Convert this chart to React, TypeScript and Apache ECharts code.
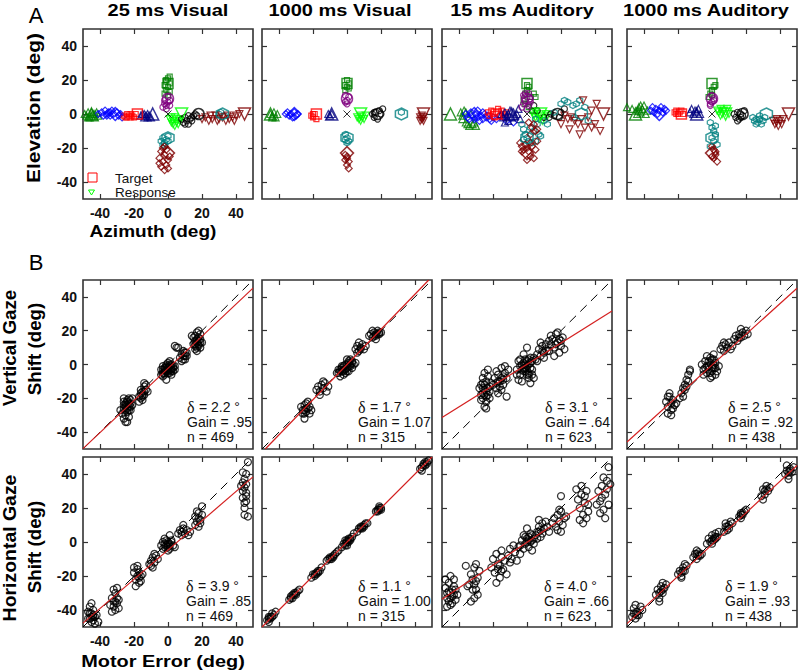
import React, { useEffect, useRef } from 'react';
import * as echarts from 'echarts';

// ---------- axes ----------
const AXIS_MIN = -50;
const AXIS_MAX = 50;
const tickValues = [-40, -20, 0, 20, 40];
const panelTitles = ['25 ms Visual', '1000 ms Visual', '15 ms Auditory', '1000 ms Auditory'];

// ---------- panel A: targets ----------
const targetAzimuth = [-45, -31, -18, -9, 8, 18, 32, 45, 0, 0, 0, 0];
const targetElevation = [0, 0, 0, 0, 0, 0, 0, 0, 18, 9, -14, -23];
const targetColors = ['#007f00', '#0000ff', '#ff0000', '#00007f', '#00ff00', '#000000', '#007f7f', '#7f0000', '#007f00', '#7f007f', '#007f7f', '#7f0000'];
const targetShapes = ['triangle', 'diamond', 'rect', 'triangle', 'triangleDown', 'circle', 'hexagon', 'triangleDown', 'rect', 'circle', 'hexagon', 'diamond'];
const fixationPoint = [0, 0];

// responses (flat x,y lists), one list per target, in target order
const respVis25: number[][] = [
  [-49, 0, -48, -1, -47, 1, -46, -2, -45, -1, -44, 0, -43, -2, -42, 1, -41, -1, -47, -2, -45, 1, -43, 0],
  [-41, 0, -39, 1, -38, -1, -37, 2, -36, 0, -35, 1, -34, -1, -33, 2, -32, 0, -30, 1, -29, -1, -28, 0, -27, -2, -36, -1, -34, 1],
  [-26, -1, -25, -2, -24, 0, -23, -1, -22, -2, -21, -1, -20, -2, -19, 0, -24, -2, -22, 0],
  [-16, -1, -15, 0, -14, -2, -13, -1, -12, 0, -11, -1, -10, -2, -14, 0, -12, -2],
  [1, -3, 2, -5, 3, -4, 4, -7, 5, -5, 6, -3, 4, -2, 3, -6, 6, -6, 7, -4, 2, -2],
  [8, -3, 9, -5, 10, -2, 11, -4, 12, -6, 13, -3, 14, -2, 15, -1, 16, 0, 12, -1, 10, -6, 14, -4, 17, -1],
  [30, 0, 31, 1, 33, -1],
  [20, -3, 22, -2, 24, -4, 26, -3, 28, -1, 30, -3, 32, -2, 34, -4, 36, -3, 38, -2, 40, -1, 42, 0, 25, -1, 29, -4, 35, -1, 39, -4],
  [-2, 12, -1, 14, 0, 16, 1, 18, -1, 20, 0, 21, -2, 17, 1, 13, 0, 11, -1, 19, 1, 22],
  [-3, 4, -2, 6, -1, 5, 0, 7, 1, 8, -1, 3, 0, 10, -2, 8, 1, 5],
  [-4, -16, -3, -14, -2, -17, -1, -15, 0, -13, -3, -18, -2, -19, 0, -16],
  [-5, -26, -4, -22, -3, -28, -2, -24, -1, -30, 0, -27, -4, -31, -2, -33, -3, -20, -1, -21, 0, -32, -5, -29, -2, -19, 1, -25],
];
const respVis1000: number[][] = [
  [-45, 0, -44, -1, -43, 1, -42, -2, -41, 0, -44, -2],
  [-36, 0, -35, 1, -34, -1, -33, 0, -32, -2, -31, 1, -30, -1, -29, 0],
  [-21, -1, -20, -2, -19, 0, -18, -3, -20, 0],
  [-11, 0, -10, -1, -9, 0],
  [6, -2, 7, -3, 8, -4, 9, -2, 10, -3, 11, -1, 8, -1],
  [15, 0, 16, -2, 17, 1, 18, -3, 19, 2, 20, 0, 21, 3, 16, 1],
  [32, 1],
  [43, -2, 44, -3, 45, -4, 44, -1, 43, -4, 45, -2],
  [-1, 14, 0, 16, 1, 18, 0, 20, -1, 17, 1, 15],
  [-1, 7, 0, 8, 1, 10, -1, 11, 0, 6],
  [-1, -12, 0, -14, 1, -16, 0, -17, -1, -15],
  [-1, -24, 0, -26, 1, -28, 0, -30, -1, -27, 1, -32, 0, -25],
];
const respAud15: number[][] = [
  [-39, 1, -38, -1, -37, 2, -36, -5, -35, -6, -34, -7, -33, 0, -32, -6, -31, -5, -30, -7, -38, -3, -36, 1],
  [-36, 0, -35, -2, -34, -3, -33, 1, -32, -1, -31, -3, -30, 0, -29, -2, -28, -4, -27, -1, -26, -3, -25, 0, -24, -2, -23, -1, -22, -3, -21, -4, -20, -2, -18, -3, -16, -1, -14, -2, -12, -4, -8, -5, -29, 2, -26, 1],
  [-23, 1, -22, -1, -21, 2, -20, 0, -19, -2, -18, 1, -17, 3, -16, -1, -15, 2, -14, 0, -13, -2, -12, 1],
  [-15, 0, -14, -2, -13, 1, -12, -1, -11, 0, -10, 2, -9, -2, -8, 1, -7, -1, -6, 0, -5, 3, -4, -3, -11, -4, -13, -5],
  [3, 1, 4, -1, 5, -2, 6, 0, 7, -3, 8, -1, 9, -4, 10, -2, 11, 0, 12, -1, 5, 1],
  [4, 5, 6, 2, 10, -2, 14, 0, 16, -1, 20, 1, 22, 3, 13, -2, 19, -2],
  [20, 6, 22, 8, 24, 7, 27, 5, 29, 6, 31, 8, 34, 4, 10, -4, 12, -6, 16, 1, 36, -4, 28, -2, 8, -13, 5, -16],
  [22, -1, 24, -3, 26, -2, 28, -4, 30, -6, 32, -3, 34, -8, 36, -2, 38, 2, 40, -6, 43, -10, 20, -6, 25, -9, 31, -12, 38, -8, 33, 8, 41, 6],
  [-2, 8, -1, 12, 0, 14, 1, 16, 2, 10, 4, 12, 5, 10, -1, 6, 1, 4, 3, 2, 0, 17],
  [-3, 4, -2, 6, -1, 8, 0, 10, 1, 12, 2, 7, -2, 11, 0, 3, 1, 5, 2, 9, -1, 12],
  [-3, -6, -2, -9, -1, -12, 0, -14, 1, -16, 2, -8, 4, -10, 6, -6, 7, -12, -2, -15, 3, -17, 5, -3],
  [-4, -17, -3, -19, -2, -21, -1, -18, 0, -20, 1, -22, 2, -17, 3, -19, 5, -21, 6, -16, 2, -25, 4, -26, 1, -5, 3, -8, 5, -10, 2, -12, 4, -6, 6, -9, -3, -22, 0, -27],
];
const respAud1000: number[][] = [
  [-50, 4, -47, 3, -44, 2, -43, 4, -42, 1, -41, 3, -40, 5, -39, 0, -38, 2, -44, 0, -42, 5, -43, 2],
  [-36, 2, -35, 4, -34, 1, -33, 3, -32, 0, -31, 2, -30, 4, -29, 1, -28, 3, -27, 2],
  [-22, 1, -21, 2, -20, 0, -19, 1, -18, 2, -17, 0, -21, 0],
  [-13, 1, -12, 3, -11, 0, -10, 2, -9, 1, -8, 3, -7, 0],
  [3, 2, 4, 1, 5, 3, 6, 0, 7, 2, 8, 1, 9, 3, 10, 0, 5, -1],
  [13, 0, 14, -2, 15, 1, 16, -3, 17, 0, 18, -1, 19, 2, 15, -4, 17, -2],
  [24, -2, 25, -4, 26, -3, 27, -5, 28, -3, 29, -6, 30, -4, 31, -2, 26, -6, 28, -1],
  [36, -4, 37, -6, 38, -5, 39, -7, 40, -4, 41, -6, 42, -3, 38, -3],
  [-2, 10, -1, 12, 0, 14, 1, 16, 2, 17, 0, 11],
  [-1, 5, 0, 7, 1, 9, 0, 11, -1, 6, 1, 8],
  [-1, -5, 0, -8, 1, -10, 2, -12, 0, -14, 1, -16, 3, -18, -1, -19, 2, -7],
  [0, -19, 1, -21, 2, -24, 1, -26, 3, -28, 2, -22, 0, -25],
];

// ---------- panel B: motor error (x) vs gaze shift (y), flat x,y lists ----------
const vertVis25 = [
  -26, -22, -25, -24, -24, -21, -23, -25, -22, -23, -25, -27, -24, -28, -23, -20, -21, -24, -26, -26, -27, -29, -24, -26, -22, -27, -25, -30, -26, -32, -24, -34, -25, -34, -23, -31, -28, -27, -21, -20, -22, -21, -26, -20,
  -24, -24, -25, -25, -23, -23, -24, -22, -22, -25, -25, -23, -23, -27, -26, -24,
  -17, -19, -16, -17, -15, -16, -14, -18, -13, -15, -16, -20, -14, -13, -13, -12, -15, -21, -17, -22, -12, -16, -15, -19, -14, -11, -15, -18, -14, -16, -16, -15,
  -4, -3, -3, -1, -2, -5, -1, -2, 0, -4, 1, -1, 2, -3, 3, -2, -3, -5, -1, 0, 0, 1, 1, -5, -2, -6, 2, 0, 3, -4, -4, -6, -1, -9, 4, -1, 0, -2, -2, -3, 1, 2, -3, -7, 2, -6, 4, -3,
  -2, -2, -1, -4, 0, -3, 1, -3, -1, -1, 2, -2, 0, -5, -3, -3, 1, 0, 3, -1, -2, -4, 2, -4,
  7, 4, 8, 6, 9, 3, 10, 5, 11, 7, 9, 8, 8, 2, 10, 3, 11, 5, 4, 11, 5, 10, 6, 10, 9, 5, 10, 7,
  15, 12, 16, 14, 17, 10, 18, 12, 19, 15, 16, 17, 17, 19, 18, 20, 19, 10, 16, 9, 15, 16, 18, 14, 17, 8, 19, 18, 14, 17, 20, 13,
  17, 13, 18, 11, 16, 12, 17, 15, 18, 16, 16, 11, 19, 13,
];
const vertVis1000 = [
  -27, -25, -26, -27, -25, -24, -24, -28, -23, -26, -22, -25, -25, -29, -24, -23, -21, -27, -26, -29, -25, -32, -23, -22, -22, -29, -24, -26, -25, -27,
  -18, -15, -17, -13, -16, -16, -15, -12, -14, -14, -13, -11, -12, -16, -16, -18, -14, -10, -11, -13,
  -6, -5, -5, -3, -4, -4, -3, -1, -2, -3, -1, 0, 0, -2, 1, 1, 2, -1, 3, 2, 4, 0, -2, -6, 0, 3, -4, -7, 1, -4, 3, -2, 5, 1, -1, -5, 2, 3, -3, -4,
  -4, -3, -2, -1, 0, 0, 1, -1, 2, 0, -1, -3, -3, -2, 1, 2, -5, -5, 3, 1, -2, -4, 0, -4,
  5, 9, 6, 11, 7, 8, 8, 10, 9, 12, 10, 9, 11, 11, 7, 13, 6, 7, 8, 9,
  13, 17, 14, 18, 15, 16, 16, 19, 17, 17, 18, 20, 19, 18, 20, 19, 15, 20, 17, 15, 16, 17, 17, 18, 18, 18, 19, 19,
];
const vertAud15 = [
  -27, -12, -26, -8, -25, -15, -24, -10, -23, -18, -22, -13, -27, -18, -26, -20, -25, -5, -24, -22, -23, -7, -22, -16, -28, -14, -21, -11, -25, -25, -24, -26, -26, -17, -23, -3, -27, -21, -22, -20,
  -25, -12, -24, -16, -23, -14, -26, -14, -24, -19, -26, -11, -25, -18,
  -20, -12, -19, -8, -18, -14, -17, -6, -16, -10, -15, -2, -14, -12, -13, -5, -12, -8, -11, -3, -17, -17, -15, -15, -13, -1, -18, -4, -12, -19, -14, -7,
  -16, -13, -15, -8, -17, -10, -14, -9, -18, -11,
  -6, -3, -5, 2, -4, -6, -3, 0, -2, -4, -1, 3, 0, -1, 1, -5, 2, 1, 3, -3, 4, -8, -5, -9, -2, 6, 0, 10, -3, -10, 2, -11, 4, 4, -6, -6, 1, -8, -1, -2, 3, 2, -4, 3, 0, -6,
  -2, -2, 0, -3, 1, 0, -1, -4, 2, -2, -3, -3, 0, 2, 1, -6, -4, -1, 3, -6, 2, 4, -1, 0, -2, 1, 1, 3,
  5, 3, 6, 6, 7, 9, 8, 5, 9, 11, 10, 7, 11, 12, 12, 8, 13, 14, 6, 2, 10, 4, 8, 13, 9, 8, 11, 9,
  13, 8, 14, 12, 15, 15, 16, 10, 17, 18, 18, 13, 19, 7, 20, 11, 21, 16, 22, 9, 16, 5, 18, 19, 14, 17, 20, 14, 17, 12, 19, 15,
];
const vertAud1000 = [
  -27, -22, -26, -25, -25, -19, -24, -27, -23, -21, -22, -24, -26, -29, -25, -17, -21, -23, -24, -30, -23, -26, -26, -19, -24, -23,
  -19, -20, -18, -17, -17, -14, -16, -12, -15, -9, -14, -6, -13, -4, -17, -19, -15, -13, -13, -3, -16, -15, -14, -10,
  -6, 0, -5, -3, -4, 2, -3, -5, -2, -1, -1, 4, 0, -7, 1, -2, 2, 1, 3, -4, -3, 5, 0, 3, -1, -8, 2, -6, -5, -6, 4, -1, -2, -3, 1, 6,
  -3, -1, -1, 1, 0, -2, 1, 0, -2, 2, 0, -4, 2, -2, -4, -2, 1, 3, -1, -5,
  5, 9, 6, 11, 7, 8, 8, 12, 9, 10, 10, 13, 11, 9, 12, 11, 7, 13,
  13, 15, 14, 17, 15, 14, 16, 18, 17, 16, 18, 19, 19, 17, 20, 20, 21, 18, 17, 21, 16, 16,
];
const horizVis25 = [
  -47, -45, -46, -42, -45, -47, -44, -40, -43, -44, -46, -38, -45, -36, -44, -46, -42, -43, -47, -41, -45, -44, -43, -48, -41, -47,
  -45, -42, -44, -44, -46, -45, -44, -43,
  -34, -37, -33, -33, -32, -38, -31, -30, -30, -36, -29, -34, -32, -28, -31, -40, -33, -41, -30, -27, -29, -39, -31, -35, -32, -35, -30, -33,
  -20, -18, -19, -22, -18, -16, -17, -24, -16, -20, -15, -19, -19, -26, -18, -14, -17, -21, -16, -23, -20, -15, -18, -20, -17, -18,
  -11, -13, -10, -11, -9, -9, -8, -12, -7, -8, -6, -10, -9, -15, -8, -7, -10, -14,
  -4, -2, -3, 0, -2, -3, -1, 1, 0, -1, 1, -4, 2, 0, 3, -2, -2, 2, 0, -5, 1, 4, 4, -3, -3, -4, 2, 1,
  -1, -2, 0, 0, 1, -1, -2, -1, 1, -2, 0, -3,
  6, 5, 7, 7, 8, 4, 9, 8, 10, 5, 11, 7, 12, 4, 13, 6, 9, 10, 8, 6,
  16, 10, 17, 12, 18, 14, 19, 11, 20, 16, 17, 18, 18, 9, 19, 13, 16, 15, 20, 21, 18, 17,
  44, 35, 45, 32, 46, 29, 44, 26, 45, 23, 46, 34, 44, 30, 45, 20, 46, 24, 45, 16, 47, 15, 44, 41, 46, 40, 47, 47, 45, 37, 43, 33, 46, 27,
];
const horizVis1000 = [
  -47, -46, -46, -44, -45, -45, -44, -42, -43, -43, -42, -41, -46, -47, -45, -44, -44, -44, -46, -45,
  -34, -34, -33, -32, -32, -31, -31, -30, -30, -31, -29, -29, -28, -28, -32, -33, -33, -33, -31, -31, -30, -30,
  -21, -21, -20, -19, -19, -20, -18, -18, -17, -17, -16, -17, -15, -15, -19, -19, -18, -19, -17, -18,
  -12, -11, -11, -10, -10, -10, -9, -9, -8, -8, -7, -7, -6, -6, -5, -5, -9, -10, -8, -9, -10, -9,
  -3, -3, -2, -1, -1, -2, 0, 0, 1, 1, 2, 2, 3, 3, 4, 5, 0, -2, 1, 2, -1, -1, 0, 1, 1, 0, 2, 1, -1, 1,
  6, 6, 7, 8, 8, 8, 9, 9, 10, 10, 11, 11, 12, 11, 8, 9, 9, 8, 10, 9,
  17, 18, 18, 19, 19, 19, 20, 20, 19, 21, 18, 18, 19, 20, 20, 19,
  43, 43, 44, 44, 45, 45, 46, 47, 47, 47, 48, 48, 44, 42, 45, 46, 46, 45, 47, 46,
];
const horizAud15 = [
  -48, -27, -47, -33, -46, -24, -45, -30, -44, -36, -43, -22, -42, -28, -47, -38, -45, -20, -44, -32, -46, -35, -43, -26, -41, -31, -48, -22, -45, -37, -42, -34,
  -46, -29, -44, -28, -45, -33, -47, -30, -43, -31,
  -34, -25, -33, -19, -32, -28, -31, -15, -30, -23, -29, -31, -28, -17, -33, -35, -31, -33, -30, -13, -29, -21, -32, -22, -36, -14, -35, -26, -31, -25, -30, -28,
  -21, -15, -20, -10, -19, -18, -18, -7, -17, -13, -16, -21, -15, -9, -14, -16, -13, -11, -12, -19, -18, -24, -15, -5, -17, -16, -16, -14, -15, -17,
  -11, -8, -10, -4, -9, -10, -8, -2, -7, -6, -6, -11, -5, -3, -4, -7, -10, -12,
  -4, -2, -3, 1, -2, -4, -1, 3, 0, 0, 1, -3, 2, 5, 3, 1, 4, -1, 5, 4, 6, 2, 7, 6, 0, 8, 3, -5, 8, 3, -2, 4, 1, 1,
  0, 2, 1, 3, 2, 0, -1, -1, 3, 4, 4, 2,
  6, 6, 7, 9, 8, 7, 9, 11, 10, 8, 11, 12, 12, 9, 13, 6, 9, 5, 7, 13,
  15, 11, 16, 14, 17, 9, 18, 16, 19, 12, 20, 18, 21, 10, 22, 14, 18, 7, 20, 6, 19, 19, 23, 15, 20, 27,
  30, 25, 31, 20, 32, 28, 33, 16, 34, 23, 35, 30, 36, 18, 31, 13, 33, 11, 34, 27, 32, 33, 29, 31, 36, 22, 35, 14,
  42, 30, 43, 24, 44, 33, 45, 19, 46, 28, 47, 36, 48, 22, 43, 17, 46, 14, 47, 31, 48, 44, 44, 26, 41, 22, 49, 34, 45, 38,
];
const horizAud1000 = [
  -47, -44, -46, -42, -45, -45, -44, -41, -43, -43, -42, -38, -41, -40, -46, -39, -45, -37, -45, -42, -44, -43,
  -33, -31, -32, -28, -31, -33, -30, -26, -29, -30, -28, -27, -27, -25, -31, -35, -29, -24, -30, -29, -31, -30, -29, -28,
  -20, -19, -19, -17, -18, -20, -17, -15, -16, -17, -15, -14, -18, -21, -16, -13, -17, -17, -18, -18,
  -11, -9, -10, -7, -9, -10, -8, -6, -7, -8, -6, -7, -9, -5, -8, -8, -9, -7,
  -3, -1, -2, 2, -1, 0, 0, 4, 1, 1, 2, 5, 3, 3, 4, 6, 0, -1, 2, 2, 1, 2, 0, 1, 2, 3,
  7, 6, 8, 9, 9, 7, 10, 10, 11, 12, 12, 11, 8, 11, 9, 9, 10, 8,
  16, 15, 17, 17, 18, 16, 19, 18, 20, 19, 17, 14, 18, 17, 17, 16,
  29, 27, 30, 31, 31, 28, 32, 33, 33, 30, 34, 32, 30, 25, 31, 30, 32, 31,
  43, 40, 44, 42, 45, 39, 46, 43, 47, 41, 48, 44, 45, 37, 44, 45, 46, 42, 45, 41,
];

// regression fits and statistics
const fitSlopeV = [0.95, 1.04, 0.63, 0.91];
const fitOffsetV = [-2.3, 0, 0.1, -0.35];
const fitSlopeH = [0.86, 1.0, 0.67, 0.93];
const fitOffsetH = [-4.7, 0, -0.2, -1.5];
const deltaV = ['2.2', '1.7', '3.1', '2.5'];
const gainV = ['.95', '1.07', '.64', '.92'];
const deltaH = ['3.9', '1.1', '4.0', '1.9'];
const gainH = ['.85', '1.00', '.66', '.93'];
const trialCounts = ['469', '315', '623', '438'];

// ---------- layout ----------
const COL_LEFT = [83, 262, 442, 627];
const ROW_TOP = [29, 280, 457];
const ROW_H = [170, 169, 170];
const PW = 170;
const TITLE_X = [168, 340, 522, 706];
const STAT_X = [[187, 358, 545, 728], [186, 358, 544, 725]];
const STAT_Y = [[407, 422, 437], [586, 601, 616]];
const SANS = 'Liberation Sans, Arial, Helvetica, sans-serif';
const SERIF = 'Liberation Serif, Times New Roman, serif';
const FRAME = '#333333';
const HEX = 'path://M5,0L9.33,2.5L9.33,7.5L5,10L0.67,7.5L0.67,2.5Z';
const XMARK = 'path://M0,0L10,10M10,0L0,10';

const pairs = (a: number[]) => {
  const out: number[][] = [];
  for (let i = 0; i + 1 < a.length; i += 2) out.push([a[i], a[i + 1]]);
  return out;
};

const shapeInfo = (shape: string, big: boolean) => {
  const sizes: Record<string, [number, number]> = {
    rect: [10, 5], circle: [11, 6], triangle: [12, 7], triangleDown: [12, 7], diamond: [13, 7], hexagon: [12, 6],
  };
  const size = sizes[shape][big ? 0 : 1];
  if (shape === 'triangleDown') return { symbol: 'triangle', rotate: 180, size };
  if (shape === 'hexagon') return { symbol: HEX, rotate: 0, size };
  return { symbol: shape, rotate: 0, size };
};

function buildOption() {
  const grid: any[] = [];
  const xAxis: any[] = [];
  const yAxis: any[] = [];
  const series: any[] = [];
  const graphic: any[] = [];

  const tickCfg = { show: true, inside: true, length: 5, customValues: tickValues, lineStyle: { color: FRAME, width: 1.2 } };
  const labelCfg = (show: boolean, margin: number) => ({
    show, customValues: tickValues, fontWeight: 'bold', fontSize: 14, color: '#111', fontFamily: SANS, margin,
  });
  const axisBase = (gi: number, pos: string, show: boolean, margin: number) => ({
    type: 'value', gridIndex: gi, position: pos, min: AXIS_MIN, max: AXIS_MAX,
    axisLine: { show: false, onZero: false }, splitLine: { show: false },
    axisTick: tickCfg, axisLabel: labelCfg(show, margin),
  });

  for (let r = 0; r < 3; r++) {
    for (let c = 0; c < 4; c++) {
      const gi = r * 4 + c;
      grid.push({
        left: COL_LEFT[c], top: ROW_TOP[r], width: PW, height: ROW_H[r],
        show: true, borderColor: FRAME, borderWidth: 1.6, backgroundColor: 'rgba(0,0,0,0)',
      });
      xAxis.push(axisBase(gi, 'bottom', c === 0 && r !== 1, 7));
      xAxis.push(axisBase(gi, 'top', false, 7));
      yAxis.push(axisBase(gi, 'left', c === 0, 6));
      yAxis.push(axisBase(gi, 'right', false, 6));
    }
  }

  // Panel A
  const respSets = [respVis25, respVis1000, respAud15, respAud1000];
  respSets.forEach((set, c) => {
    const ax = { xAxisIndex: c * 2, yAxisIndex: c * 2 };
    set.forEach((flat, t) => {
      const s = shapeInfo(targetShapes[t], false);
      series.push({
        type: 'scatter', ...ax, data: pairs(flat), symbol: s.symbol, symbolRotate: s.rotate, symbolSize: s.size,
        itemStyle: { color: 'rgba(0,0,0,0)', borderColor: targetColors[t], borderWidth: 1.2 }, silent: true,
      });
    });
    targetAzimuth.forEach((az, t) => {
      const s = shapeInfo(targetShapes[t], true);
      series.push({
        type: 'scatter', ...ax, data: [[az, targetElevation[t]]], symbol: s.symbol, symbolRotate: s.rotate, symbolSize: s.size,
        itemStyle: { color: 'rgba(0,0,0,0)', borderColor: targetColors[t], borderWidth: 1.5 }, silent: true,
      });
    });
    series.push({
      type: 'scatter', ...ax, data: [fixationPoint], symbol: XMARK, symbolSize: 7,
      itemStyle: { color: 'rgba(0,0,0,0)', borderColor: '#000', borderWidth: 1 }, silent: true,
    });
  });

  // Panel B
  const vertSets = [vertVis25, vertVis1000, vertAud15, vertAud1000];
  const horizSets = [horizVis25, horizVis1000, horizAud15, horizAud1000];
  const fitLine = (a: number, b: number) => {
    const x0 = Math.max(AXIS_MIN, (AXIS_MIN - b) / a);
    const x1 = Math.min(AXIS_MAX, (AXIS_MAX - b) / a);
    return [[x0, a * x0 + b], [x1, a * x1 + b]];
  };
  const plain = (text: string, x: number, y: number, family = SANS, size = 14) => ({
    type: 'text', x, y, z: 100,
    style: {
      text, fontSize: size, fontFamily: family, fill: '#111',
      align: 'left', verticalAlign: 'middle', textAlign: 'left', textVerticalAlign: 'middle',
    },
  });
  [vertSets, horizSets].forEach((sets, k) => {
    sets.forEach((flat, c) => {
      const gi = (k + 1) * 4 + c;
      const ax = { xAxisIndex: gi * 2, yAxisIndex: gi * 2 };
      series.push({
        type: 'scatter', ...ax, data: pairs(flat), symbol: 'circle', symbolSize: 7,
        itemStyle: { color: 'rgba(0,0,0,0)', borderColor: '#000', borderWidth: 1.25 }, silent: true,
      });
      series.push({
        type: 'line', ...ax, data: [[AXIS_MIN, AXIS_MIN], [AXIS_MAX, AXIS_MAX]], symbol: 'none', silent: true,
        lineStyle: { color: '#000', width: 1, type: [9, 6] },
      });
      const a = k === 0 ? fitSlopeV[c] : fitSlopeH[c];
      const b = k === 0 ? fitOffsetV[c] : fitOffsetH[c];
      series.push({
        type: 'line', ...ax, data: fitLine(a, b), symbol: 'none', silent: true,
        lineStyle: { color: '#d42020', width: 1.2 },
      });
      const d = k === 0 ? deltaV[c] : deltaH[c];
      const g = k === 0 ? gainV[c] : gainH[c];
      const x = STAT_X[k][c];
      graphic.push(plain('δ', x, STAT_Y[k][0], SERIF, 16));
      graphic.push(plain(` = ${d} °`, x + 8, STAT_Y[k][0]));
      graphic.push(plain(`Gain = ${g}`, x, STAT_Y[k][1]));
      graphic.push(plain(`n = ${trialCounts[c]}`, x, STAT_Y[k][2]));
    });
  });

  const txt = (text: string, x: number, y: number, size: number, bold: boolean, extra: any = {}) => ({
    type: 'text', x, y, z: 100, ...extra,
    style: {
      text, fontSize: size, fontWeight: bold ? 'bold' : 'normal', fontFamily: SANS, fill: '#000',
      align: 'center', verticalAlign: 'middle', textAlign: 'center', textVerticalAlign: 'middle',
    },
  });

  panelTitles.forEach((t, c) => graphic.push(txt(t, TITLE_X[c], 11, 16, true, { scaleX: 1.25 })));
  graphic.push(txt('A', 36, 15, 22, false));
  graphic.push(txt('B', 36, 262, 22, false));
  graphic.push(txt('Elevation (deg)', 33, 108, 19, true, { rotation: Math.PI / 2, scaleX: 1.1 }));
  graphic.push(txt('Azimuth (deg)', 153, 231, 17, true, { scaleX: 1.12 }));
  graphic.push(txt('Vertical Gaze', 10, 348, 18, true, { rotation: Math.PI / 2, scaleX: 1.04 }));
  graphic.push(txt('Shift (deg)', 35, 349, 18, true, { rotation: Math.PI / 2, scaleX: 1.04 }));
  graphic.push(txt('Horizontal Gaze', 10, 548, 18, true, { rotation: Math.PI / 2, scaleX: 1.08 }));
  graphic.push(txt('Shift (deg)', 35, 547, 18, true, { rotation: Math.PI / 2, scaleX: 1.04 }));
  graphic.push(txt('Motor Error (deg)', 163, 661, 17, true, { scaleX: 1.17 }));

  // legend in the first A panel
  graphic.push({ type: 'rect', z: 100, shape: { x: 88, y: 173, width: 9, height: 9 }, style: { fill: 'none', stroke: '#ff0000', lineWidth: 1 } });
  graphic.push({ type: 'polygon', z: 100, shape: { points: [[88.5, 190], [94.5, 190], [91.5, 195]] }, style: { fill: 'none', stroke: '#00ff00', lineWidth: 1 } });
  graphic.push(plain('Target', 115, 178, SANS, 13.5));
  graphic.push(plain('Response', 115, 192, SANS, 13.5));

  return { animation: false, backgroundColor: '#ffffff', grid, xAxis, yAxis, series, graphic: { elements: graphic } };
}

export default function App() {
  const ref = useRef<HTMLDivElement>(null);
  useEffect(() => {
    if (!ref.current) return;
    const chart = echarts.init(ref.current, undefined, { renderer: 'svg' });
    chart.setOption(buildOption() as any);
    return () => chart.dispose();
  }, []);
  return <div ref={ref} style={{ position: 'fixed', left: 0, top: 0, width: 798, height: 671 }} />;
}
